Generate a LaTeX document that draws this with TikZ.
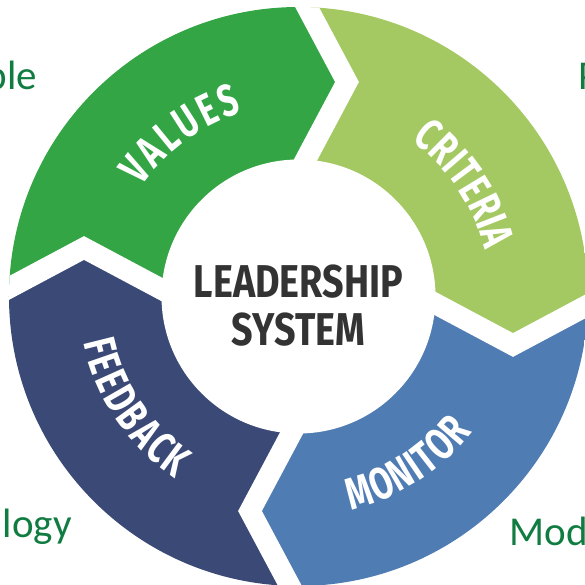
\documentclass[tikz,border=0pt]{standalone}
\usepackage{fontspec}
\usepackage{tikz}
\usetikzlibrary{decorations.text}
\newfontfamily\cyclefont{Fira Sans}[FakeStretch=0.82]
\newfontfamily\ringfont{Fira Sans}[FakeStretch=0.72]
\newfontfamily\sidefont{Carlito}
\newcommand\ringsize{\ringfont\bfseries\fontsize{45}{48}\selectfont}
\definecolor{valuesgreen}{HTML}{33A544}
\definecolor{criteriagreen}{HTML}{A4C962}
\definecolor{monitorblue}{HTML}{4F7CB3}
\definecolor{feedbacknavy}{HTML}{3A4975}
\definecolor{leadgray}{HTML}{333333}
\definecolor{sidegreen}{HTML}{107C41}

\begin{document}
\begin{tikzpicture}[x=1pt,y=1pt]
\tikzstyle{every node}+=[inner sep=0pt]
\tikzstyle{gap}=[white,line width=21pt,line join=miter]
\tikzstyle{centertext}=[leadgray,anchor=base,font=\cyclefont\bfseries\fontsize{46}{50}\selectfont]
\tikzstyle{sidetext}=[sidegreen,font=\sidefont\fontsize{41}{46}\selectfont]
\tikzstyle{cyclelabel}=[decorate,decoration={text along path,text color=white,text align=fit to path}]
\clip (-298.5,-287.5) rectangle (286.5,296.5);
% divider points: inner leg end, tip, outer leg end
\coordinate (in0) at (-11.3,102.2);
\coordinate (tip0) at (48.5,214.5);
\coordinate (out0) at (-62.1,421.9);
\coordinate (in1) at (102.2,11.3);
\coordinate (tip1) at (214.5,-48.5);
\coordinate (out1) at (421.9,62.1);
\coordinate (in2) at (11.3,-102.2);
\coordinate (tip2) at (-48.5,-214.5);
\coordinate (out2) at (62.1,-421.9);
\coordinate (in3) at (-102.2,-11.3);
\coordinate (tip3) at (-214.5,48.5);
\coordinate (out3) at (-421.9,-62.1);
\begin{scope}
\clip (0,0) circle (289.5);
\fill [valuesgreen] (0,0) -- (in3) -- (tip3) -- (out3) -- (-450,450) -- (out0) -- (tip0) -- (in0) -- cycle;
\fill [criteriagreen] (0,0) -- (in0) -- (tip0) -- (out0) -- (450,450) -- (out1) -- (tip1) -- (in1) -- cycle;
\fill [monitorblue] (0,0) -- (in1) -- (tip1) -- (out1) -- (450,-450) -- (out2) -- (tip2) -- (in2) -- cycle;
\fill [feedbacknavy] (0,0) -- (in2) -- (tip2) -- (out2) -- (-450,-450) -- (out3) -- (tip3) -- (in3) -- cycle;
\draw [gap] (in0) -- (tip0) -- (out0);
\draw [gap] (in1) -- (tip1) -- (out1);
\draw [gap] (in2) -- (tip2) -- (out2);
\draw [gap] (in3) -- (tip3) -- (out3);
\end{scope}
\fill [white] (0,0) circle (137);
% labels on the ring
\path [cyclelabel,decoration={text={|\ringsize|VALUES}}] (145:192) arc [start angle=145,end angle=107,radius=192];
\path [cyclelabel,decoration={text={|\ringsize|CRITERIA}}] (54:192) arc [start angle=54,end angle=14,radius=192];
\path [cyclelabel,decoration={text={|\ringsize|MONITOR}}] (-76:220) arc [start angle=-76,end angle=-38,radius=220];
\path [cyclelabel,decoration={text={|\ringsize|FEEDBACK}}] (192:220) arc [start angle=192,end angle=236,radius=220];
% centre
\node [centertext] (leadership) at (0,-0.5) {LEADERSHIP};
\node [centertext] (system) at (0,-48.5) {SYSTEM};
% words round the corners
\node [sidetext,anchor=base east] (ple) at (-261,206.5) {ple};
\node [sidetext,anchor=base west] (p) at (280.2,206.5) {P};
\node [sidetext,anchor=base east] (logy) at (-226.5,-240.5) {logy};
\node [sidetext,anchor=base west] (mod) at (211.2,-248.5) {Mod};
\end{tikzpicture}
\end{document}
